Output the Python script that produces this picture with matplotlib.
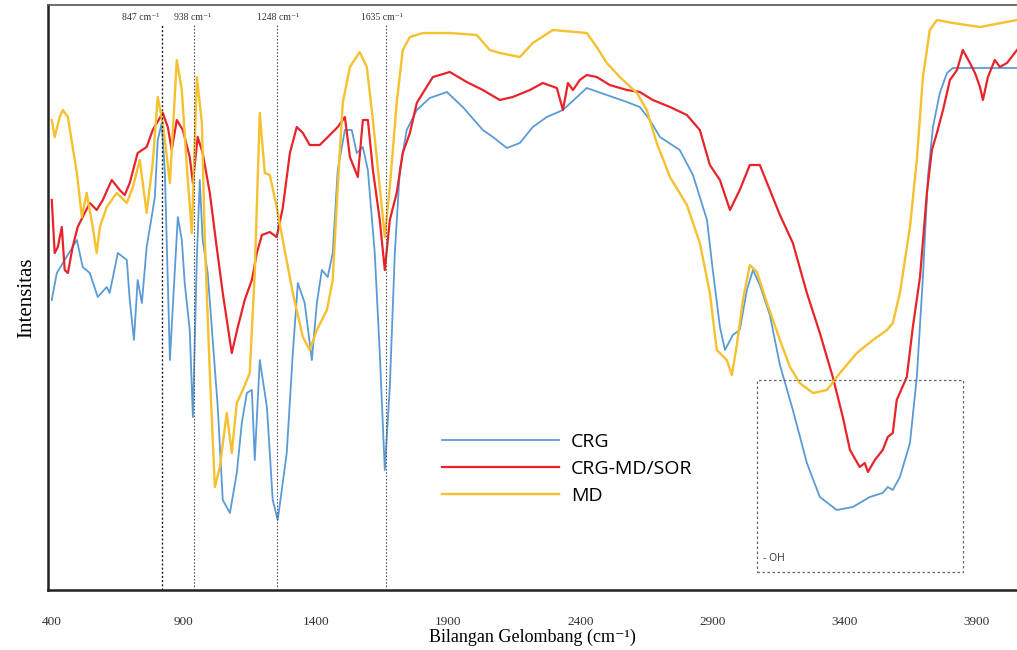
import numpy as np
import matplotlib.pyplot as plt
from matplotlib.patches import Rectangle

# spektrum FTIR (intensitas dalam satuan sembarang)
crg_x = [400, 419, 495, 517, 544, 574, 608, 619, 650, 684, 695, 711, 725, 741, 759, 778, 790, 801, 816, 828,
         847, 865, 877, 892, 903, 922, 934, 949, 960, 971, 990, 1009, 1028, 1047, 1074, 1100, 1119, 1138, 1157,
         1168, 1187, 1214, 1236, 1255, 1289, 1312, 1331, 1357, 1384, 1403, 1422, 1444, 1463, 1482, 1509, 1535,
         1554, 1577, 1596, 1622, 1641, 1660, 1679, 1698, 1717, 1743, 1781, 1830, 1895, 1955, 2031, 2069, 2122,
         2171, 2220, 2273, 2334, 2424, 2500, 2576, 2625, 2663, 2701, 2776, 2826, 2879, 2901, 2928, 2947, 2977,
         3003, 3030, 3053, 3079, 3117, 3155, 3204, 3257, 3306, 3370, 3431, 3495, 3544, 3563, 3582, 3609, 3647,
         3673, 3696, 3715, 3734, 3760, 3787, 3809, 4052]
crg_y = [290, 317, 350, 323, 317, 293, 303, 297, 337, 330, 290, 250, 310, 287, 343, 373, 393, 450, 467, 417,
         230, 317, 373, 350, 307, 260, 173, 333, 410, 350, 317, 250, 183, 90, 77, 117, 167, 197, 200,
         130, 230, 183, 90, 70, 137, 237, 307, 287, 230, 287, 320, 313, 337, 420, 460, 460,
         437, 443, 420, 337, 237, 120, 203, 337, 420, 460, 480, 492, 498, 483, 460, 453, 442,
         447, 463, 473, 480, 502, 495, 488, 483, 470, 453, 440, 415, 370, 320, 263, 240, 255,
         260, 300, 320, 305, 275, 225, 180, 127, 93, 80, 83, 93, 97, 103, 100, 113, 147,
         213, 313, 413, 463, 497, 517, 522, 522]

sor_x = [400, 411, 423, 438, 449, 461, 479, 498, 517, 544, 570, 593, 627, 657, 676, 695, 725, 759, 782, 820,
         839, 854, 873, 896, 922, 934, 952, 971, 998, 1024, 1047, 1081, 1104, 1130, 1157, 1176, 1195, 1225, 1251,
         1274, 1301, 1327, 1350, 1376, 1414, 1452, 1482, 1509, 1528, 1558, 1577, 1596, 1615, 1641, 1660, 1679,
         1705, 1728, 1755, 1781, 1804, 1842, 1906, 1970, 2031, 2095, 2144, 2209, 2258, 2311, 2334, 2353, 2372,
         2398, 2424, 2462, 2511, 2576, 2625, 2674, 2739, 2803, 2852, 2890, 2928, 2966, 3003, 3041, 3079, 3117,
         3155, 3204, 3257, 3306, 3355, 3393, 3420, 3457, 3476, 3488, 3514, 3544, 3563, 3582, 3597, 3635, 3658,
         3685, 3711, 3730, 3749, 3772, 3787, 3798, 3825, 3847, 3874, 3893, 3912, 3923, 3942, 3968, 3987, 4014,
         4052]
sor_y = [390, 337, 343, 363, 320, 317, 343, 363, 373, 387, 380, 390, 410, 400, 395, 407, 437, 443, 460, 477,
         463, 440, 470, 460, 433, 407, 453, 437, 397, 343, 297, 237, 263, 290, 310, 337, 355, 358, 353,
         382, 437, 463, 457, 445, 445, 455, 463, 473, 433, 413, 470, 470, 420, 370, 320, 370,
         397, 437, 457, 487, 497, 513, 518, 508, 500, 490, 493, 500, 507, 502, 480, 507, 500,
         510, 515, 513, 505, 500, 498, 490, 483, 475, 460, 425, 410, 380, 400, 425, 425, 400,
         375, 347, 297, 257, 213, 173, 140, 123, 127, 118, 130, 140, 153, 157, 190, 213, 263,
         313, 397, 440, 457, 480, 497, 510, 520, 540, 527, 517, 503, 490, 513, 530, 523, 527,
         540]

md_x = [400, 411, 430, 442, 461, 479, 495, 514, 532, 555, 570, 582, 608, 646, 684, 707, 733, 759, 782, 801,
        820, 847, 873, 892, 911, 930, 949, 968, 979, 998, 1017, 1036, 1062, 1081, 1100, 1123, 1149, 1168, 1187,
        1206, 1225, 1251, 1274, 1312, 1350, 1376, 1403, 1441, 1463, 1482, 1501, 1528, 1565, 1592, 1615, 1641,
        1660, 1679, 1705, 1728, 1755, 1804, 1906, 2008, 2057, 2095, 2171, 2220, 2296, 2424, 2462, 2500, 2549,
        2614, 2651, 2689, 2739, 2803, 2852, 2890, 2916, 2954, 2973, 2992, 3015, 3041, 3068, 3106, 3155, 3193,
        3230, 3280, 3333, 3382, 3446, 3507, 3560, 3582, 3609, 3647, 3673, 3696, 3722, 3749, 3809, 3912, 4052]
md_y = [470, 453, 473, 480, 473, 443, 417, 373, 397, 363, 337, 363, 383, 397, 387, 403, 430, 377, 427, 493,
        467, 407, 530, 500, 423, 357, 513, 467, 350, 217, 103, 123, 177, 137, 187, 200, 217, 317, 477,
        417, 415, 383, 350, 297, 253, 240, 260, 280, 310, 403, 487, 523, 538, 523, 470, 403,
        353, 403, 487, 540, 553, 557, 557, 555, 540, 537, 533, 547, 560, 557, 543, 527, 513,
        497, 480, 447, 413, 385, 347, 297, 240, 230, 215, 245, 290, 325, 318, 287, 250, 223,
        207, 197, 200, 217, 237, 250, 260, 267, 297, 363, 430, 513, 560, 570, 567, 563, 570]

series_names = ['CRG', 'CRG-MD/SOR', 'MD']
series_colors = ['#5B9BD5', '#E8242B', '#F5C12E']

peak_pos = [816, 937, 1251, 1664]
peak_labels = ['847 cm⁻¹', '938 cm⁻¹', '1248 cm⁻¹', '1635 cm⁻¹']

serif = ['Liberation Serif', 'DejaVu Serif']

fig = plt.figure(figsize=(10.17, 6.5), dpi=100)
ax = fig.add_axes([0.047, 0.0923, 0.953, 0.9])

ax.plot(crg_x, crg_y, color=series_colors[0], lw=1.3, label=series_names[0])
ax.plot(sor_x, sor_y, color=series_colors[1], lw=1.6, label=series_names[1])
ax.plot(md_x, md_y, color=series_colors[2], lw=1.7, label=series_names[2])

# garis puncak
for i, p in enumerate(peak_pos):
    ax.plot([p, p], [0, 565], ls=(0, (1.5, 1.5)), color='#222222' if i == 0 else '#555555',
            lw=1.0 if i == 0 else 0.8, zorder=5)
lab_kw = dict(va='center', fontsize=7, family=serif, color='#333333')
ax.text(peak_pos[0] - 8, 573, peak_labels[0], ha='right', **lab_kw)
ax.text(peak_pos[1] - 75, 573, peak_labels[1], ha='left', **lab_kw)
ax.text(peak_pos[2] + 5, 573, peak_labels[2], ha='center', **lab_kw)
ax.text(peak_pos[3] - 15, 573, peak_labels[3], ha='center', **lab_kw)

# kotak -OH
ax.add_patch(Rectangle((3068, 18), 3847 - 3068, 192, fill=False, ls=(0, (2, 2)),
                       ec='#666666', lw=0.9, zorder=6))
ax.text(3090, 32, '- OH', fontsize=7.5, family='Open Sans', va='center', color='#333333')

ax.set_xlim(385, 4052)
ax.set_ylim(0, 585)
ax.set_xticks([400, 900, 1400, 1900, 2400, 2900, 3400, 3900])
ax.set_yticks([])
ax.tick_params(axis='x', length=0, pad=19, labelsize=9.5, labelcolor='#333333')
for t in ax.get_xticklabels():
    t.set_family(serif)

ax.spines['right'].set_visible(False)
ax.spines['top'].set_color('#555555')
ax.spines['top'].set_linewidth(1.2)
ax.spines['left'].set_linewidth(1.8)
ax.spines['bottom'].set_linewidth(1.8)
ax.spines['left'].set_color('#222222')
ax.spines['bottom'].set_color('#222222')

ax.set_xlabel('Bilangan Gelombang (cm⁻¹)', family=serif, fontsize=13, labelpad=0)
ax.set_ylabel('Intensitas', family=serif, fontsize=15, labelpad=8)

leg = ax.legend(loc='upper left', bbox_to_anchor=(0.389, 0.298), frameon=False,
                handlelength=6.0, handletextpad=0.6, labelspacing=0.45,
                prop={'family': 'Open Sans', 'size': 14})

fig.savefig('out.png', dpi=100)
